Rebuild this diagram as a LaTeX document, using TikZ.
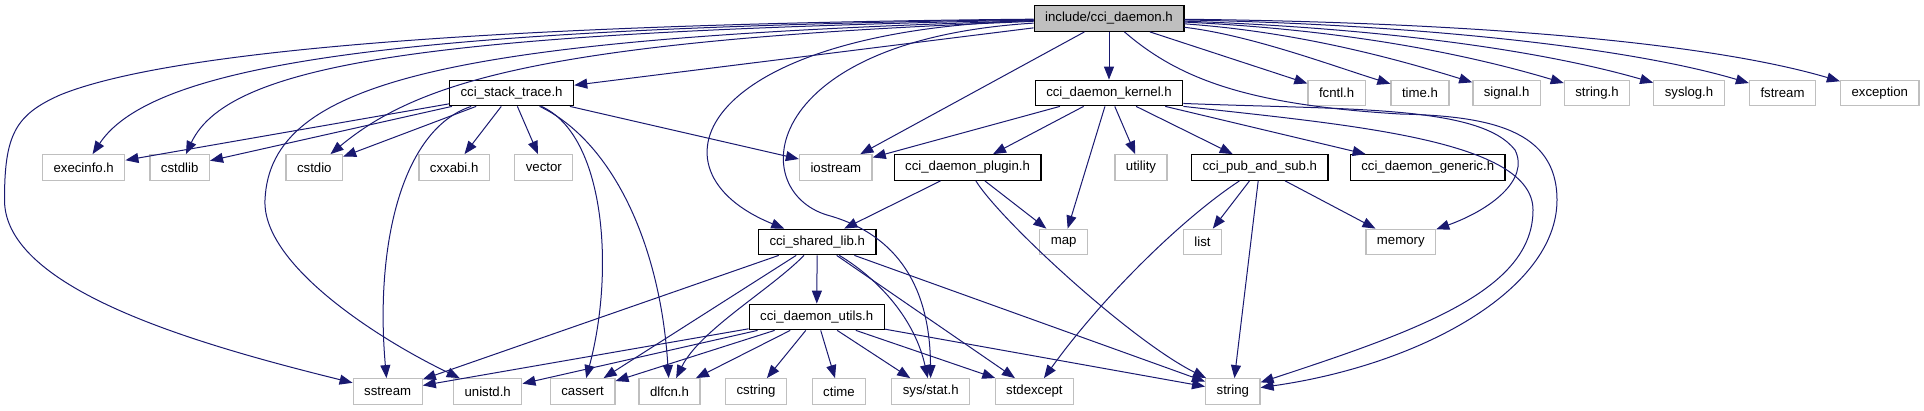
\documentclass[tikz,border=0pt]{standalone}
\usepackage{fontspec}
\setmainfont{Liberation Sans}
\usetikzlibrary{arrows.meta}
\definecolor{edgeBlue}{RGB}{25,25,112}
\definecolor{boxGray}{RGB}{191,191,191}

\begin{document}
\begin{tikzpicture}[x=1pt, y=-1pt, >={Triangle[length=13pt, width=10pt]},
  font=\fontsize{13.2}{15}\selectfont,
  box/.style={draw, line width=1.3pt, inner xsep=11pt, inner ysep=0pt, minimum height=25.5pt},
  hdr/.style={box, draw=black},
  sys/.style={box, draw=boxGray},
  top/.style={box, draw=black, fill=boxGray},
  dep/.style={->, draw=edgeBlue, line width=1pt}]
  \useasboundingbox (0,0) rectangle (1924,411);

  % rows of headers
  \node[top] (root) at (1109,18.5) {include/cci\_daemon.h};

  \node[hdr] (stacktrace) at (511.6,93) {cci\_stack\_trace.h};
  \node[hdr] (kernel) at (1109,93) {cci\_daemon\_kernel.h};
  \node[sys] (fcntl) at (1336.6,93) {fcntl.h};
  \node[sys] (timeh) at (1420,93) {time.h};
  \node[sys] (signalh) at (1506.6,93) {signal.h};
  \node[sys] (stringh) at (1597,93) {string.h};
  \node[sys] (syslogh) at (1689,93) {syslog.h};
  \node[sys] (fstream) at (1782.5,93) {fstream};
  \node[sys] (exception) at (1879.8,93) {exception};

  \node[sys] (execinfo) at (83.7,167.5) {execinfo.h};
  \node[sys] (cstdlib) at (179.7,167.5) {cstdlib};
  \node[sys] (cstdio) at (314.3,167.5) {cstdio};
  \node[sys] (cxxabi) at (454.2,167.5) {cxxabi.h};
  \node[sys] (vector) at (543.8,167.5) {vector};
  \node[sys] (iostream) at (835.8,167.5) {iostream};
  \node[hdr] (plugin) at (967.6,167.5) {cci\_daemon\_plugin.h};
  \node[sys] (utility) at (1141,167.5) {utility};
  \node[hdr] (pubsub) at (1259.8,167.5) {cci\_pub\_and\_sub.h};
  \node[hdr] (generic) at (1427.7,167.5) {cci\_daemon\_generic.h};

  \node[hdr] (sharedlib) at (817.2,242) {cci\_shared\_lib.h};
  \node[sys] (map) at (1063.6,242) {map};
  \node[sys] (list) at (1202.5,242) {list};
  \node[sys] (memory) at (1400.8,242) {memory};

  \node[hdr] (utils) at (816.7,317) {cci\_daemon\_utils.h};

  \node[sys] (sstream) at (387.7,391.5) {sstream};
  \node[sys] (unistd) at (487.7,391.5) {unistd.h};
  \node[sys] (cassert) at (582.6,391.5) {cassert};
  \node[sys] (dlfcn) at (669.5,391.5) {dlfcn.h};
  \node[sys] (cstring) at (756,391.5) {cstring};
  \node[sys] (ctime) at (839,391.5) {ctime};
  \node[sys] (sysstat) at (930.7,391.5) {sys/stat.h};
  \node[sys] (stdexcept) at (1034.4,391.5) {stdexcept};
  \node[sys] (string) at (1232.8,391.5) {string};

  % includes of the root header
  \draw[dep] (root) .. controls (500,24) and (170,50) .. (60,95)
    .. controls (15,115) and (4.5,135) .. (4.5,200)
    .. controls (4.5,290) and (200,345) .. (sstream);
  \draw[dep] (root) .. controls (420,28) and (155,60) .. (execinfo);
  \draw[dep] (root) .. controls (450,32) and (230,60) .. (cstdlib);
  \draw[dep] (root) .. controls (450,38) and (270,80) .. (265,200)
    .. controls (262,265) and (380,340) .. (unistd);
  \draw[dep] (root) .. controls (550,40) and (420,80) .. (cstdio);
  \draw[dep] (root) -- (stacktrace);
  \draw[dep] (root) -- (iostream);
  \draw[dep] (root) .. controls (700,30) and (640,170) .. (sharedlib);
  \draw[dep] (root) .. controls (760,40) and (745,190) .. (827,215)
    .. controls (900,235) and (930,290) .. (sysstat);
  \draw[dep] (root) -- (kernel);
  \draw[dep] (root) -- (fcntl);
  \draw[dep] (root) .. controls (1250,35) and (1330,65) .. (timeh);
  \draw[dep] (root) .. controls (1300,32) and (1400,60) .. (signalh);
  \draw[dep] (root) .. controls (1350,30) and (1470,55) .. (stringh);
  \draw[dep] (root) .. controls (1380,28) and (1540,50) .. (syslogh);
  \draw[dep] (root) .. controls (1400,24) and (1620,45) .. (fstream);
  \draw[dep] (root) .. controls (1450,22) and (1700,40) .. (exception);
  \draw[dep] (root) .. controls (1180,80) and (1250,105) .. (1400,114)
    .. controls (1490,116) and (1557,130) .. (1557,200)
    .. controls (1557,290) and (1420,365) .. (string);

  % cci_daemon_kernel.h
  \draw[dep] (kernel) -- (iostream);
  \draw[dep] (kernel) -- (plugin);
  \draw[dep] (kernel) -- (map);
  \draw[dep] (kernel) -- (utility);
  \draw[dep] (kernel) -- (pubsub);
  \draw[dep] (kernel) -- ([xshift=16pt]generic.north west);
  \draw[dep] (kernel.-8) .. controls (1350,110) and (1480,105) .. (1515,150)
    .. controls (1530,180) and (1490,210) .. (memory);
  \draw[dep] (kernel.south east) .. controls (1350,125) and (1533,140) .. (1533,210)
    .. controls (1533,290) and (1420,330) .. (string);

  \draw[dep] (plugin) -- (sharedlib);
  \draw[dep] (plugin) -- (map);
  \draw[dep] (plugin) .. controls (1000,220) and (1130,340) .. (string);

  \draw[dep] (pubsub) -- (list);
  \draw[dep] (pubsub) -- (memory);
  \draw[dep] (pubsub) -- (string);
  \draw[dep] (pubsub) .. controls (1180,220) and (1100,300) .. (stdexcept);

  % cci_stack_trace.h
  \draw[dep] (stacktrace) -- (execinfo);
  \draw[dep] (stacktrace) -- (cstdlib);
  \draw[dep] (stacktrace) -- (cstdio);
  \draw[dep] (stacktrace) -- (cxxabi);
  \draw[dep] (stacktrace) -- (vector);
  \draw[dep] (stacktrace) -- (iostream);
  \draw[dep] (stacktrace) .. controls (400,130) and (375,250) .. (sstream);
  \draw[dep] (stacktrace) .. controls (605,135) and (615,270) .. (cassert);
  \draw[dep] (stacktrace) .. controls (610,140) and (660,240) .. (dlfcn);

  % cci_shared_lib.h and cci_daemon_utils.h
  \draw[dep] (sharedlib) -- (sstream);
  \draw[dep] (sharedlib) -- (cassert);
  \draw[dep] (sharedlib) .. controls (770,290) and (700,330) .. (dlfcn);
  \draw[dep] (sharedlib) -- (utils);
  \draw[dep] (sharedlib) .. controls (880,280) and (915,320) .. (sysstat);
  \draw[dep] (sharedlib) -- (stdexcept);
  \draw[dep] (sharedlib) -- (string);

  \draw[dep] (utils) -- (sstream);
  \draw[dep] (utils) -- (unistd);
  \draw[dep] (utils) -- (cassert);
  \draw[dep] (utils) -- (dlfcn);
  \draw[dep] (utils) -- (cstring);
  \draw[dep] (utils) -- (ctime);
  \draw[dep] (utils) -- (sysstat);
  \draw[dep] (utils) -- (stdexcept);
  \draw[dep] (utils) -- (string);
\end{tikzpicture}
\end{document}
